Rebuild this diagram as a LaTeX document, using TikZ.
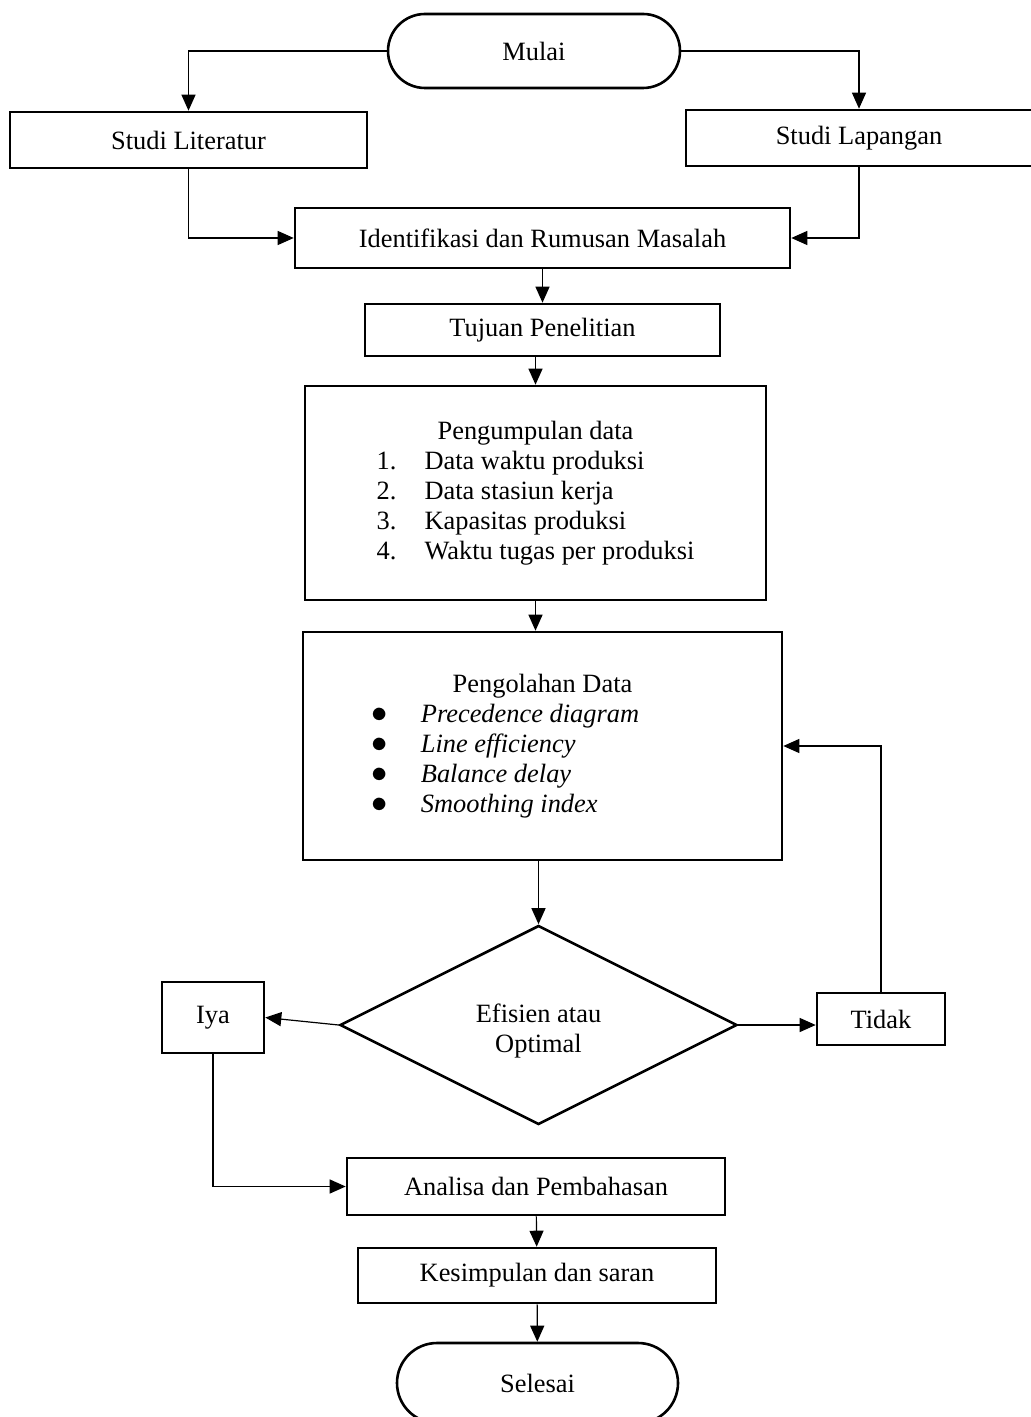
\documentclass[tikz,border=0pt]{standalone}
\usepackage{fontspec}
\setmainfont{Liberation Serif}
\usepackage{tikz}
\usetikzlibrary{shapes.misc}
\usetikzlibrary{shapes.geometric}
\usetikzlibrary{arrows.meta}
\tikzstyle{base} = [draw, line width=1.3pt, inner sep=0pt, font={\fontsize{13.2}{15}\selectfont}]
\tikzstyle{proc} = [base, rectangle, align=center]
\tikzstyle{term} = [base, rounded rectangle]
\tikzstyle{decide} = [base, diamond, align=center]
\tikzstyle{flow} = [line width=0.6pt, -{Triangle[length=8pt,width=7pt]}]
\newcommand{\bigdot}{\hspace*{-3pt}\scalebox{1.35}{$\bullet$}}

\begin{document}
\begin{tikzpicture}[x=0.5pt, y=-0.5pt]
                \useasboundingbox (0,0) rectangle (1030,1417);
                \node [term, minimum width=146pt, minimum height=37pt] (mulai) at (534,51) {Mulai};
                \node [proc, minimum width=178.5pt, minimum height=28pt] (lit) at (188.5,140) {Studi Literatur};
                \node [proc, minimum width=173pt, minimum height=28pt] (lap) at (859,138) {Studi Lapangan};
                \node [proc, minimum width=247.5pt, minimum height=30pt] (ident) at (542.5,238) {Identifikasi dan Rumusan Masalah};
                \node [proc, minimum width=177.5pt, minimum height=26pt] (tujuan) at (542.5,330) {Tujuan Penelitian};
                \node [proc, minimum width=230.5pt, minimum height=107pt] (kumpul) at (535.5,493)
                    {\begin{tabular}{@{}p{24pt}@{}l@{}}
                        \multicolumn{2}{c}{Pengumpulan data}\\
                        1. & Data waktu produksi\\
                        2. & Data stasiun kerja\\
                        3. & Kapasitas produksi\\
                        4. & Waktu tugas per produksi
                    \end{tabular}};
                \node [proc, minimum width=239.5pt, minimum height=114pt] (olah) at (542.5,746)
                    {\begin{tabular}{@{}p{21.5pt}@{}l@{\hspace{34pt}}}
                        \multicolumn{2}{c}{Pengolahan Data}\\
                        \bigdot & \textit{Precedence diagram}\\
                        \bigdot & \textit{Line efficiency}\\
                        \bigdot & \textit{Balance delay}\\
                        \bigdot & \textit{Smoothing index}
                    \end{tabular}};
                \node [decide, minimum width=198.5pt, minimum height=99.5pt, text height=30pt] (cek) at (538.5,1025) {Efisien atau\\Optimal};
                \node [proc, minimum width=51pt, minimum height=35.5pt] (iya) at (213,1017.5) {Iya};
                \node [proc, minimum width=64pt, minimum height=26pt] (tidak) at (881,1019) {Tidak};
                \node [proc, minimum width=189pt, minimum height=28.5pt] (analisa) at (536,1186.5) {Analisa dan Pembahasan};
                \node [proc, minimum width=179pt, minimum height=27.5pt] (simpul) at (537,1275.5) {Kesimpulan dan saran};
                \node [term, minimum width=140.5pt, minimum height=40pt] (selesai) at (537.5,1383) {Selesai};
                \draw[flow] (mulai.west) -| (lit.north);
                \draw[flow] (mulai.east) -| (lap.north);
                \draw[flow] (lit.south) |- (ident.west);
                \draw[flow] (lap.south) |- (ident.east);
                \draw[flow] (ident) -- (tujuan);
                \draw[flow] (kumpul.north |- tujuan.south) -- (kumpul);
                \draw[flow] (kumpul) -- (olah.north -| kumpul);
                \draw[flow] (cek.north |- olah.south) -- (cek.north);
                \draw[flow] (cek.west) -- (iya.east);
                \draw[flow] (cek.east) -- (cek.east -| tidak.west);
                \draw[flow] (tidak.north) |- (olah.east);
                \draw[flow] (iya.south) |- (analisa.west);
                \draw[flow] (analisa) -- (simpul);
                \draw[flow] (simpul) -- (selesai);
            \end{tikzpicture}
\end{document}
